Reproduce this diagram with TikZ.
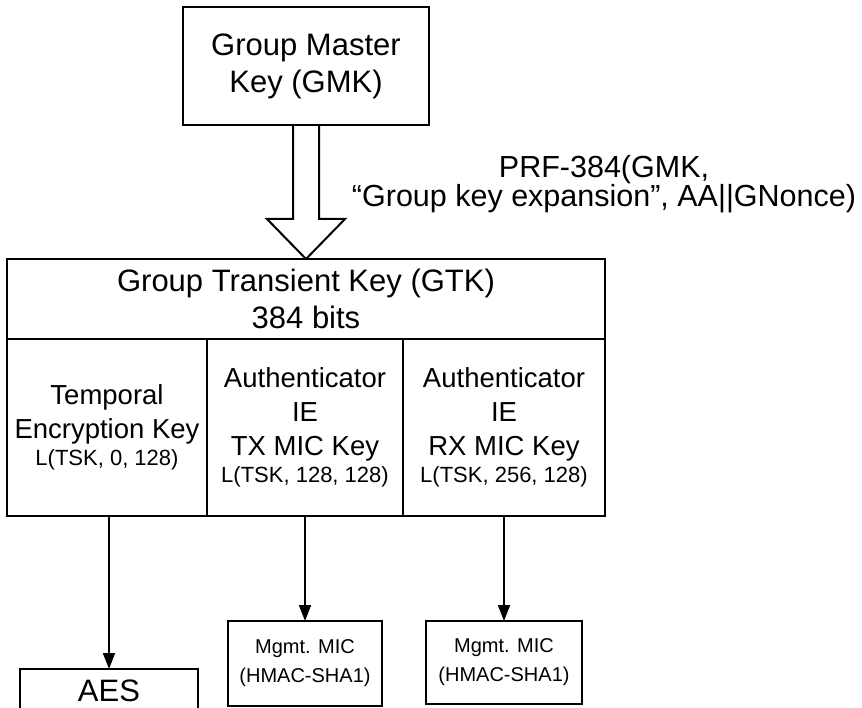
\documentclass[tikz,border=0pt]{standalone}
\usepackage{fontspec}
\setmainfont{Liberation Sans}
\usetikzlibrary{arrows.meta}
\begin{document}
\begin{tikzpicture}[x=1pt,y=-1pt,
  box/.style={draw, line width=2.2pt, outer sep=0pt, inner sep=0pt, align=center},
  bigtxt/.style={font=\fontsize{31}{37}\selectfont},
  midtxt/.style={font=\fontsize{27.5}{34}\selectfont},
  smalltxt/.style={font=\fontsize{20}{29}\selectfont},
  arr/.style={line width=1.8pt, -{Triangle[length=16pt,width=12pt]}}]
\useasboundingbox (0,0) rectangle (862,708);
\fill[white] (0,0) rectangle (862,708);
\clip (0,0) rectangle (862,708);

\node[box, bigtxt, minimum width=246pt, minimum height=118pt] (gmk) at (306,66) {Group Master\\Key (GMK)};
\node[box, bigtxt, minimum width=598pt, minimum height=80pt] (gtk) at (306,299) {Group Transient Key (GTK)\\384 bits};
\node[box, midtxt, minimum width=200pt, minimum height=177pt] (tek) at (107,427.5)
  {Temporal\\Encryption Key\\[-7pt]{\fontsize{22}{26}\selectfont L(TSK, 0, 128)}};
\node[box, midtxt, minimum width=196pt, minimum height=177pt] (txk) at (305,427.5)
  {Authenticator\\IE\\TX MIC Key\\[-7pt]{\fontsize{22}{26}\selectfont L(TSK, 128, 128)}};
\node[box, midtxt, minimum width=202pt, minimum height=177pt] (rxk) at (504,427.5)
  {Authenticator\\IE\\RX MIC Key\\[-7pt]{\fontsize{22}{26}\selectfont L(TSK, 256, 128)}};

\node[font=\fontsize{30.5}{27}\selectfont, align=center] (prf) at (604,184)
  {PRF-384(GMK,\\“Group key expansion”, AA||GNonce)};

\node[box, bigtxt, minimum width=178pt, minimum height=43pt] (aes) at (109,690.5) {AES};
\node[box, smalltxt, minimum width=154pt, minimum height=85pt] (mic1) at (305,663.5) {Mgmt. MIC\\(HMAC-SHA1)};
\node[box, smalltxt, minimum width=156pt, minimum height=83pt] (mic2) at (504,662.5) {Mgmt. MIC\\(HMAC-SHA1)};

\coordinate (ah) at (306,219);
\draw[line width=2pt, line join=miter]
  ([xshift=-13pt]gmk.south) -- ([xshift=-13pt]ah) -- ([xshift=-39pt]ah) -- (gtk.north)
  -- ([xshift=39pt]ah) -- ([xshift=13pt]ah) -- ([xshift=13pt]gmk.south);

\draw[arr] (aes.north |- tek.south) -- (aes.north);
\draw[arr] (txk.south) -- (mic1.north);
\draw[arr] (rxk.south) -- (mic2.north);
\end{tikzpicture}
\end{document}
